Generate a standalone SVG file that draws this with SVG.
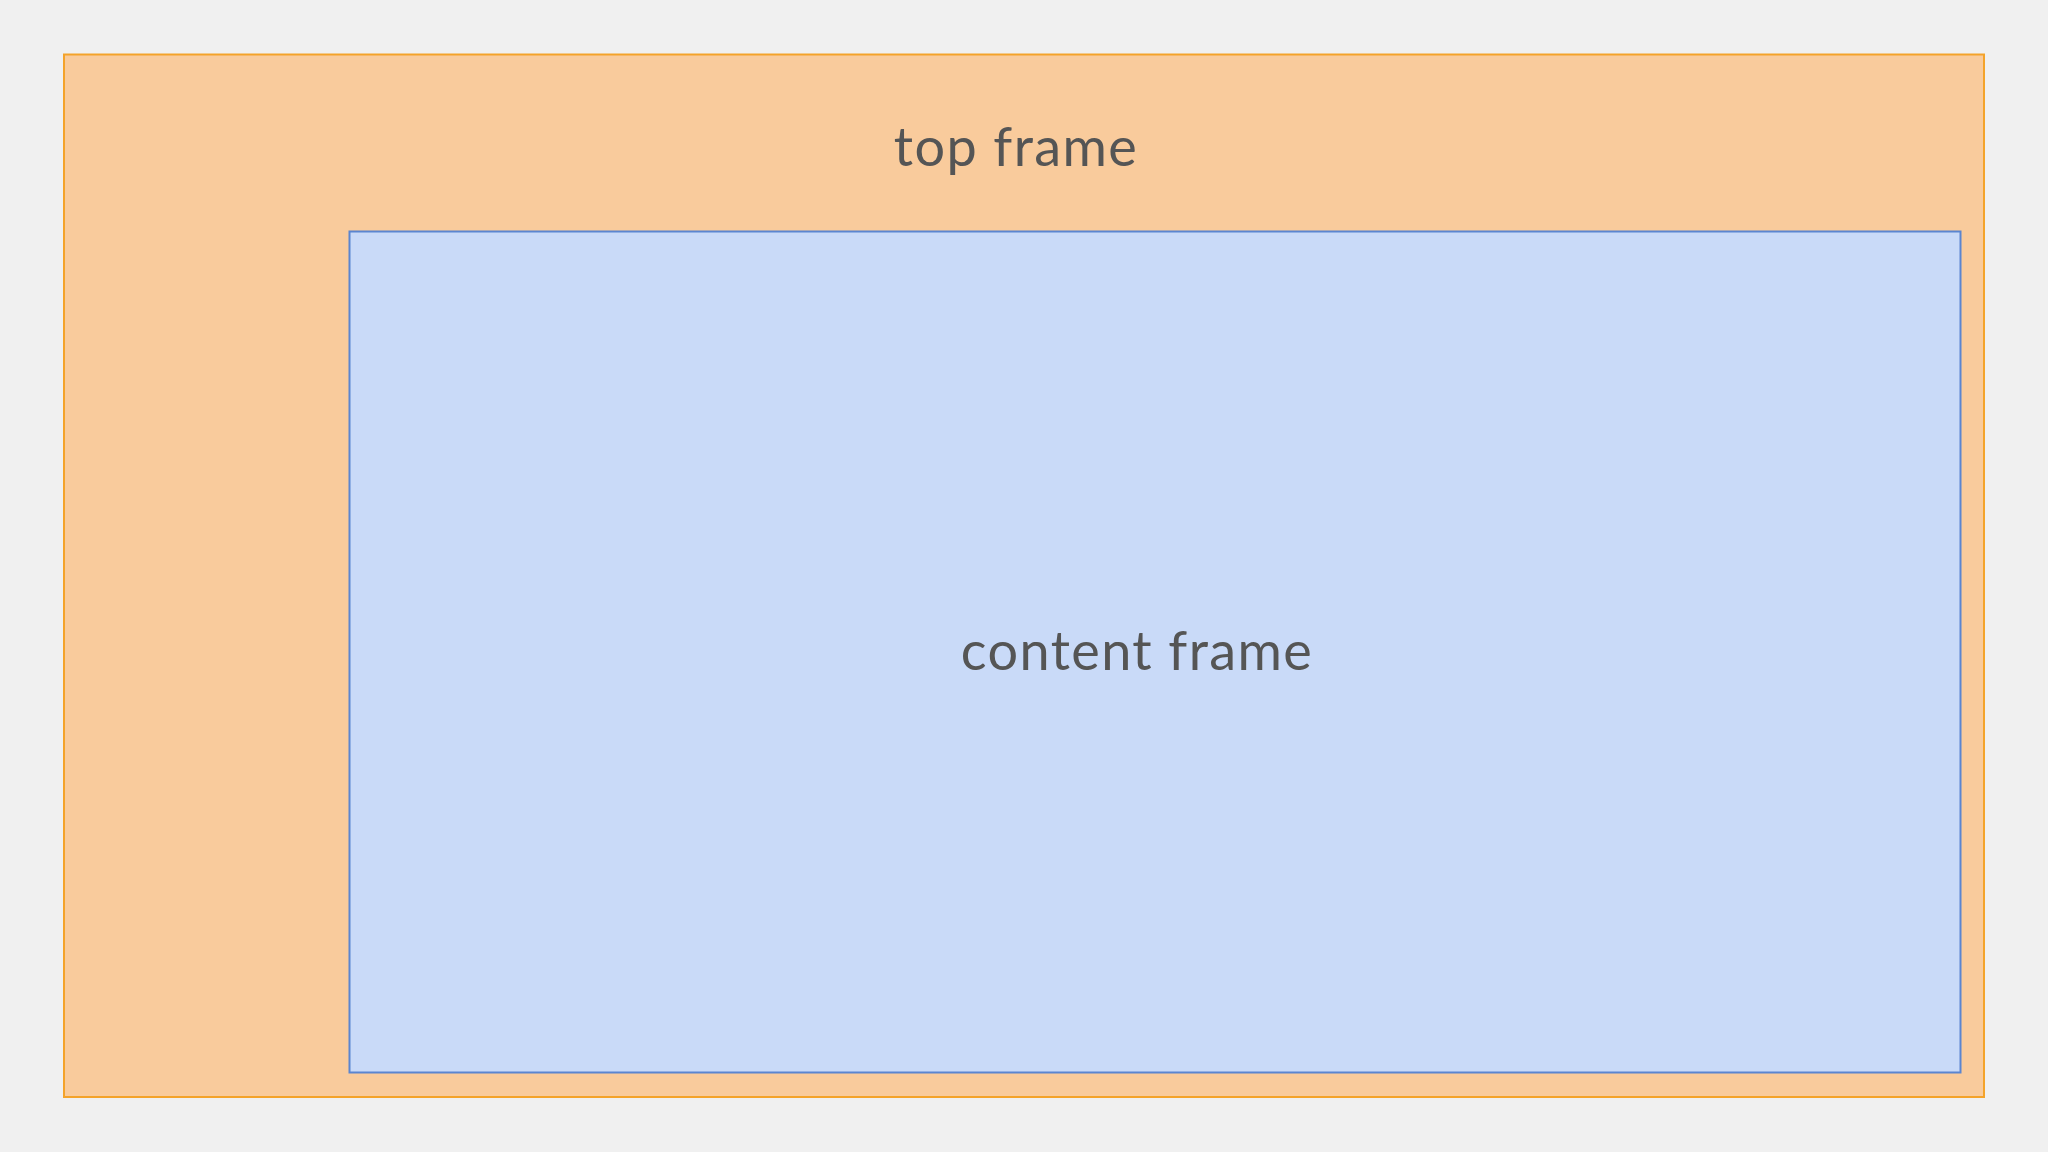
<svg xmlns="http://www.w3.org/2000/svg" width="2048" height="1152" viewBox="0 0 2048 1152">
<style>
.lbl{font-family:Lato,"Noto Sans","Liberation Sans",sans-serif;font-size:54px;letter-spacing:1.4px;fill:#555555;text-anchor:middle}
</style>
<rect width="2048" height="1152" fill="#f0f0f0"/>
<g id="top-frame">
<rect x="64" y="54.5" width="1920" height="1042.5" fill="#f9cb9c" stroke="#f4a32a" stroke-width="2"/>
<text class="lbl" x="1016" y="166">top frame</text>
</g>
<g id="content-frame">
<rect x="349.5" y="231.5" width="1611" height="841" fill="#c9daf8" stroke="#5b85d0" stroke-width="2"/>
<text class="lbl" x="1137" y="670">content frame</text>
</g>
<g id="connectors"/>
</svg>
